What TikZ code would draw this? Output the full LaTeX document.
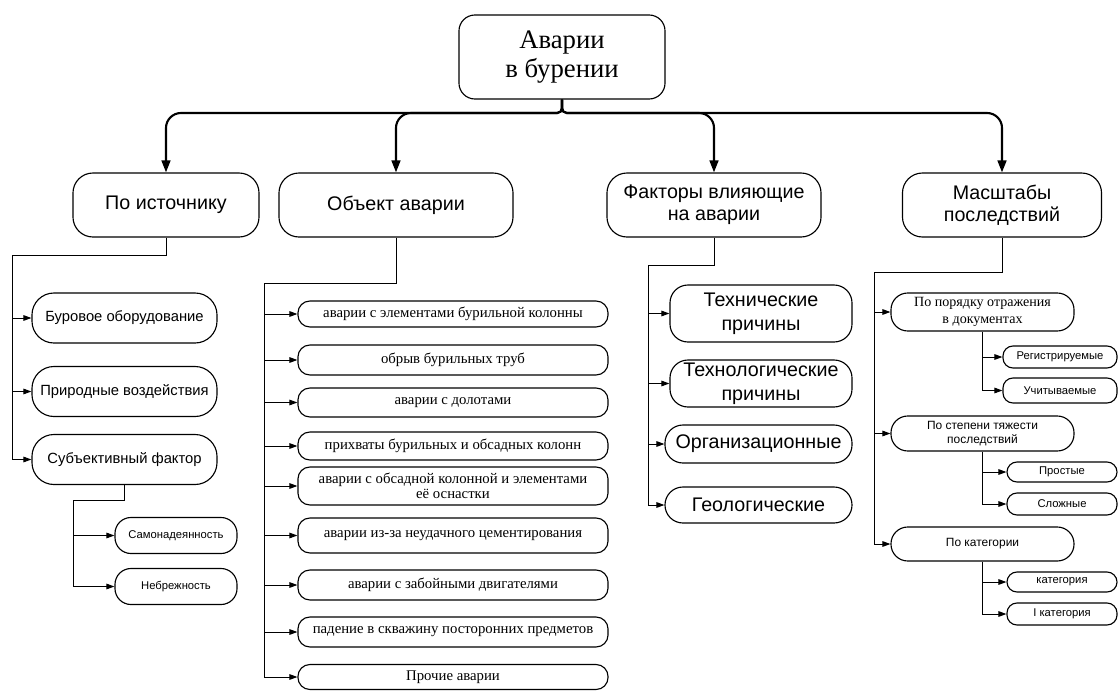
\documentclass[tikz,border=0pt]{standalone}
\usepackage{fontspec}
\setmainfont{Liberation Serif}
\setsansfont{Liberation Sans}
\usepackage{tikz}
\usetikzlibrary{positioning,arrows.meta}

\begin{document}
\begin{tikzpicture}[x=0.025cm,y=-0.025cm,
        box/.style={draw,line width=0.8pt,inner sep=1pt,align=center},
        rootbox/.style={box,rounded corners=0.4cm,minimum width=5.15cm,minimum height=2.1cm,font=\fontsize{19}{20}\selectfont},
        headbox/.style={box,rounded corners=0.5cm,minimum height=1.6cm,font=\sffamily\fontsize{14}{15.5}\selectfont},
        srcbox/.style={box,rounded corners=0.55cm,minimum width=4.625cm,minimum height=1.25cm,font=\sffamily\fontsize{10.5}{12}\selectfont},
        smallbox/.style={box,rounded corners=0.4cm,minimum width=3.05cm,minimum height=0.9cm,font=\sffamily\fontsize{8}{9}\selectfont},
        objbox/.style={box,rounded corners=0.3cm,minimum width=7.75cm,font=\fontsize{10.5}{11}\selectfont},
        facbox/.style={box,rounded corners=0.45cm,font=\sffamily\fontsize{14}{17}\selectfont},
        sclbox/.style={box,rounded corners=0.42cm,minimum width=4.575cm,font=\sffamily\fontsize{8.5}{9.5}\selectfont},
        tinybox/.style={box,rounded corners=0.25cm,minimum height=0.55cm,font=\sffamily\fontsize{8}{9}\selectfont},
        bus/.style={line width=1.5pt,-{Triangle[length=3mm,width=2.2mm]},rounded corners=0.12cm},
        link/.style={line width=0.7pt,-{Triangle[length=2mm,width=1.4mm]}}]
        \useasboundingbox (0,0) rectangle (1118,691);

        \node[rootbox] (root) at (562,57) {Аварии\\в бурении};
        \node[headbox,minimum width=4.65cm] (src) at (166,205) {По источнику};
        \node[headbox,minimum width=5.85cm] (obj) at (396,205) {Объект аварии};
        \node[headbox,minimum width=5.35cm] (fac) at (714,205) {Факторы влияющие\\на аварии};
        \node[headbox,minimum width=4.975cm] (scl) at (1002,205) {Масштабы\\последствий};

        \coordinate (hub) at (562,113);
        \foreach \t in {src,obj,fac,scl}
          \draw[bus] (root.south) -- (hub) [rounded corners=0.375cm] -| (\t.north);

        % по источнику
        \node[srcbox] (eq) at (124.5,318) {Буровое оборудование};
        \node[srcbox] (nat) at (124.5,391.5) {Природные воздействия};
        \node[srcbox] (subj) at (124.5,459.5) {Субъективный фактор};
        \node[smallbox] (self) at (176,535.5) {Самонадеянность};
        \node[smallbox] (negl) at (176,586.5) {Небрежность};

        \coordinate (srcbus) at (12,255);
        \draw[link] (src.south) |- (srcbus) |- (subj.west);
        \foreach \t in {eq,nat}
          \draw[link] (srcbus |- \t.west) -- (\t.west);
        \coordinate (subjbus) at (73,500);
        \draw[link] (subj.south) |- (subjbus) |- (negl.west);
        \draw[link] (subjbus |- self.west) -- (self.west);

        % объект аварии
        \node[objbox,minimum height=0.65cm] (o1) at (453,314) {аварии с элементами бурильной колонны};
        \node[objbox,minimum height=0.75cm] (o2) at (453,360) {обрыв бурильных труб};
        \node[objbox,minimum height=0.725cm] (o3) at (453,402.5) {аварии с долотами};
        \node[objbox,minimum height=0.7cm] (o4) at (453,446) {прихваты бурильных и обсадных колонн};
        \node[objbox,minimum height=0.95cm] (o5) at (453,486) {аварии с обсадной колонной и элементами\\её оснастки};
        \node[objbox,minimum height=0.875cm] (o6) at (453,535.5) {аварии из-за неудачного цементирования};
        \node[objbox,minimum height=0.75cm] (o7) at (453,585) {аварии с забойными двигателями};
        \node[objbox,minimum height=0.75cm] (o8) at (453,632) {падение в скважину посторонних предметов};
        \node[objbox,minimum height=0.625cm] (o9) at (453,677) {Прочие аварии};

        \coordinate (objbus) at (264,283);
        \draw[link] (obj.south) |- (objbus) |- (o9.west);
        \foreach \t in {o1,o2,o3,o4,o5,o6,o7,o8}
          \draw[link] (objbus |- \t.west) -- (\t.west);

        % факторы
        \node[facbox,minimum width=4.55cm,minimum height=1.425cm] (f1) at (761,313.5) {Технические\\причины};
        \node[facbox,minimum width=4.55cm,minimum height=1.175cm] (f2) at (761,383.5) {Технологические\\причины};
        \node[facbox,minimum width=4.675cm,minimum height=0.95cm] (f3) at (758.5,444) {Организационные};
        \node[facbox,minimum width=4.675cm,minimum height=0.9cm] (f4) at (758.5,505) {Геологические};

        \coordinate (facbus) at (648,265);
        \draw[link] (fac.south) |- (facbus) |- (f4.west);
        \foreach \t in {f1,f2,f3}
          \draw[link] (facbus |- \t.west) -- (\t.west);

        % масштабы
        \node[sclbox,minimum height=0.95cm,font=\fontsize{10}{12}\selectfont] (r1) at (982.5,312) {По порядку отражения\\в документах};
        \node[sclbox,minimum height=0.875cm] (r2) at (982.5,433.5) {По степени тяжести\\последствий};
        \node[sclbox,minimum height=0.85cm] (r3) at (982.5,544) {По категории};
        \node[tinybox,minimum width=2.85cm] (r11) at (1060,357) {Регистрируемые};
        \node[tinybox,minimum width=2.85cm,minimum height=0.625cm] (r12) at (1060,390.5) {Учитываемые};
        \node[tinybox,minimum width=2.75cm,minimum height=0.5cm] (r21) at (1062,472) {Простые};
        \node[tinybox,minimum width=2.75cm] (r22) at (1062,504) {Сложные};
        \node[tinybox,minimum width=2.75cm,minimum height=0.5cm] (r31) at (1062,582) {категория};
        \node[tinybox,minimum width=2.75cm] (r32) at (1062,614) {I категория};

        \coordinate (sclbus) at (874,272);
        \draw[link] (scl.south) |- (sclbus) |- (r3.west);
        \foreach \t in {r1,r2}
          \draw[link] (sclbus |- \t.west) -- (\t.west);
        \draw[link] (r1.south) |- (r12.west);
        \draw[link] (r1.south |- r11.west) -- (r11.west);
        \draw[link] (r2.south) |- (r22.west);
        \draw[link] (r2.south |- r21.west) -- (r21.west);
        \draw[link] (r3.south) |- (r32.west);
        \draw[link] (r3.south |- r31.west) -- (r31.west);
      \end{tikzpicture}
\end{document}
